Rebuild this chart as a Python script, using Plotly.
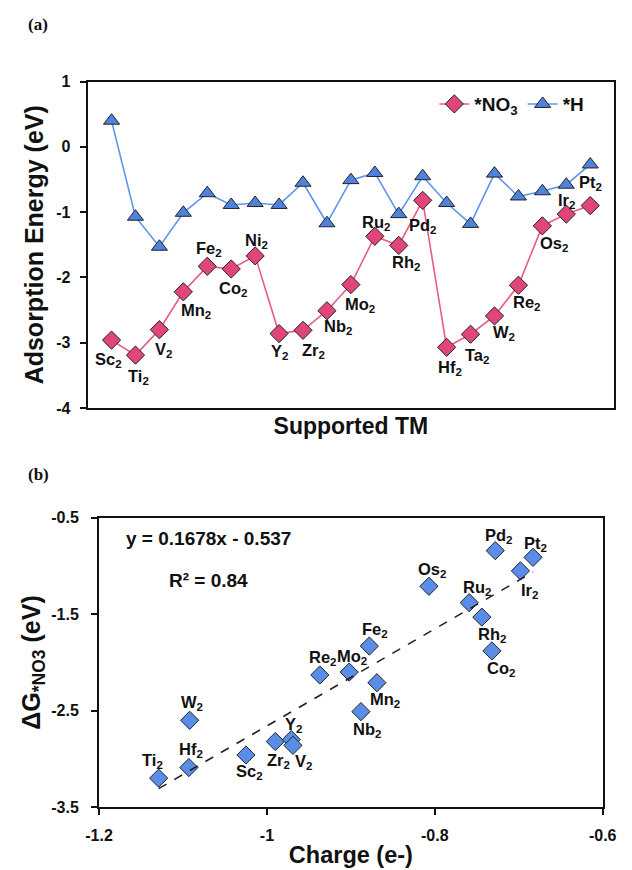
import numpy as np
import plotly.graph_objects as go

# ---------------- data ----------------
metals = ["Sc", "Ti", "V", "Mn", "Fe", "Co", "Ni", "Y", "Zr", "Nb", "Mo",
          "Ru", "Rh", "Pd", "Hf", "Ta", "W", "Re", "Os", "Ir", "Pt"]
e_no3 = [-2.96, -3.19, -2.80, -2.22, -1.83, -1.87, -1.67, -2.86, -2.81, -2.51, -2.11,
         -1.37, -1.51, -0.82, -3.07, -2.87, -2.59, -2.12, -1.21, -1.03, -0.90]
e_h = [0.40, -1.07, -1.53, -1.01, -0.71, -0.89, -0.86, -0.89, -0.55, -1.17, -0.51,
       -0.40, -1.03, -0.45, -0.86, -1.18, -0.41, -0.76, -0.68, -0.58, -0.27]

b_names = ["Ti", "Hf", "W", "Sc", "Zr", "Y", "V", "Nb", "Mn", "Re", "Mo",
           "Fe", "Os", "Ru", "Rh", "Co", "Pd", "Pt", "Ir"]
b_charge = [-1.129, -1.093, -1.092, -1.025, -0.990, -0.971, -0.969, -0.888, -0.869, -0.937, -0.902,
            -0.878, -0.807, -0.759, -0.744, -0.732, -0.728, -0.683, -0.698]
b_dg = [-3.20, -3.09, -2.60, -2.96, -2.82, -2.80, -2.86, -2.51, -2.21, -2.13, -2.10,
        -1.83, -1.21, -1.38, -1.53, -1.88, -0.84, -0.91, -1.05]

top_ticks = [1, 0, -1, -2, -3, -4]
bot_yticks = [-0.5, -1.5, -2.5, -3.5]
bot_xticks = [-1.2, -1.0, -0.8, -0.6]

# label offsets in pixels (dx right, dy down)
top_off = {"Sc": (-3, 20), "Ti": (3, 22), "V": (4, 20), "Mn": (13, 19), "Fe": (2, -17),
           "Co": (2, 20), "Ni": (1, -15), "Y": (0, 18), "Zr": (10, 21), "Nb": (11, 16),
           "Mo": (9, 20), "Ru": (1, -13), "Rh": (7, 18), "Pd": (0, 26), "Hf": (3, 21),
           "Ta": (6, 22), "W": (10, 17), "Re": (9, 18), "Os": (12, 18), "Ir": (0, -13),
           "Pt": (0, -23)}
bot_off = {"Ti": (-6, -17), "Hf": (2, -18), "W": (2, -17), "Sc": (4, 17), "Zr": (3, 19),
           "Y": (2, -15), "V": (11, 17), "Nb": (6, 18), "Mn": (8, 17), "Re": (3, -17),
           "Mo": (3, -15), "Fe": (6, -16), "Os": (3, -16), "Ru": (8, -15), "Rh": (10, 18),
           "Co": (9, 18), "Pd": (4, -15), "Pt": (2, -13), "Ir": (9, 20)}

PINK_LINE = "#ea5a84"
PINK_FILL = "#e0467a"
BLUE_LINE = "#5f95ea"
BLUE_FILL = "#4f82dc"
BLUE_DIAM = "#5a8de8"
FONT = "Liberation Sans, Arial, sans-serif"
LBL = 16.5


def fmt(v):
    s = f"{v:g}"
    return f"<b>{s}</b>"


xcat = list(range(1, len(metals) + 1))

fig = go.Figure()
fig.add_trace(go.Scatter(
    x=xcat, y=e_no3, mode="lines+markers", name="<b>*NO<sub>3</sub></b>",
    line=dict(color=PINK_LINE, width=1.6),
    marker=dict(symbol="diamond", size=14, color=PINK_FILL, line=dict(color="#222", width=1)),
    xaxis="x", yaxis="y"))
fig.add_trace(go.Scatter(
    x=xcat, y=e_h, mode="lines+markers", name="<b>*H</b>",
    line=dict(color=BLUE_LINE, width=1.6),
    marker=dict(symbol="triangle-up", size=14, color=BLUE_FILL, line=dict(color="#222", width=1)),
    xaxis="x", yaxis="y"))

# bottom panel scatter
fig.add_trace(go.Scatter(
    x=b_charge, y=b_dg, mode="markers", showlegend=False,
    marker=dict(symbol="diamond", size=14, color=BLUE_DIAM, line=dict(color="#222", width=1)),
    xaxis="x2", yaxis="y2"))

# linear trendline from data
slope, icpt = np.polyfit(b_charge, b_dg, 1)
xf = np.array([min(b_charge), max(b_charge)])
fig.add_trace(go.Scatter(
    x=xf, y=slope * xf + icpt, mode="lines", showlegend=False,
    line=dict(color="#222", width=1.6, dash="dash"),
    xaxis="x2", yaxis="y2"))

ann = []
for i, m in enumerate(metals):
    dx, dy = top_off[m]
    ann.append(dict(x=xcat[i], y=e_no3[i], xref="x", yref="y",
                    text=f"<b>{m}<sub>2</sub></b>", showarrow=False,
                    xshift=dx, yshift=-dy, font=dict(size=LBL, family=FONT, color="#111")))
for i, m in enumerate(b_names):
    dx, dy = bot_off[m]
    ann.append(dict(x=b_charge[i], y=b_dg[i], xref="x2", yref="y2",
                    text=f"<b>{m}<sub>2</sub></b>", showarrow=False,
                    xshift=dx, yshift=-dy, font=dict(size=LBL, family=FONT, color="#111")))

ann += [
    dict(x=0.02, y=1 - 17 / 870, xref="paper", yref="paper", text="<b>(a)</b>",
         showarrow=False, xanchor="left", yanchor="middle",
         font=dict(size=17, family="Liberation Serif, Times New Roman, serif", color="#111")),
    dict(x=0.02, y=1 - 476 / 870, xref="paper", yref="paper", text="<b>(b)</b>",
         showarrow=False, xanchor="left", yanchor="middle",
         font=dict(size=17, family="Liberation Serif, Times New Roman, serif", color="#111")),
    dict(x=204 / 632, y=1 - 541 / 870, xref="paper", yref="paper", text="<b>y = 0.1678x - 0.537</b>",
         showarrow=False, xanchor="center", yanchor="middle",
         font=dict(size=19, family=FONT, color="#111")),
    dict(x=204 / 632, y=1 - 584 / 870, xref="paper", yref="paper", text="<b>R² = 0.84</b>",
         showarrow=False, xanchor="center", yanchor="middle",
         font=dict(size=19, family=FONT, color="#111")),
]

TICKF = dict(size=16, family=FONT, color="#111")
axis_common = dict(showline=True, linecolor="#111", linewidth=2, mirror=True,
                   showgrid=False, zeroline=False, tickfont=TICKF)

fig.update_layout(
    width=632, height=870, margin=dict(l=0, r=0, t=0, b=0),
    paper_bgcolor="white", plot_bgcolor="white",
    font=dict(family=FONT, color="#111"),
    annotations=ann,
    legend=dict(orientation="h", x=602 / 632, y=1 - 98 / 870, xanchor="right", yanchor="middle",
                font=dict(size=19, family=FONT, color="#111"), itemwidth=30,
                bgcolor="rgba(0,0,0,0)"),
    xaxis=dict(domain=[77 / 632, 628 / 632], range=[0, 22], anchor="y",
               showticklabels=False, ticks="",
               title=dict(text="<b>Supported TM</b>", font=dict(size=23, family=FONT), standoff=9),
               **axis_common),
    yaxis=dict(domain=[1 - 408 / 870, 1 - 75 / 870], range=[-4, 1], anchor="x",
               tickvals=top_ticks, ticktext=[fmt(v) for v in top_ticks],
               ticks="outside", ticklen=6, tickwidth=1.5, tickcolor="#111",
               ticklabelstandoff=6,
               title=dict(text="<b>Adsorption Energy (eV)</b>", font=dict(size=25, family=FONT), standoff=5),
               **axis_common),
    xaxis2=dict(domain=[89 / 632, 616 / 632], range=[-1.2, -0.6], anchor="y2",
                ticks="outside", ticklen=6, tickwidth=1.5, tickcolor="#111",
                ticklabelstandoff=7,
                tickvals=bot_xticks, ticktext=[fmt(v) for v in bot_xticks],
                title=dict(text="<b>Charge (e-)</b>", font=dict(size=23.5, family=FONT), standoff=3),
                **axis_common),
    yaxis2=dict(domain=[1 - 815 / 870, 1 - 520 / 870], range=[-3.5, -0.5], anchor="x2",
                ticks="outside", ticklen=6, tickwidth=1.5, tickcolor="#111",
                ticklabelstandoff=9,
                tickvals=bot_yticks, ticktext=[fmt(v) for v in bot_yticks],
                title=dict(text="<b>ΔG<sub>*NO3</sub> (eV)</b>", font=dict(size=25, family=FONT), standoff=4),
                **axis_common),
)

fig.write_html("out.html")
